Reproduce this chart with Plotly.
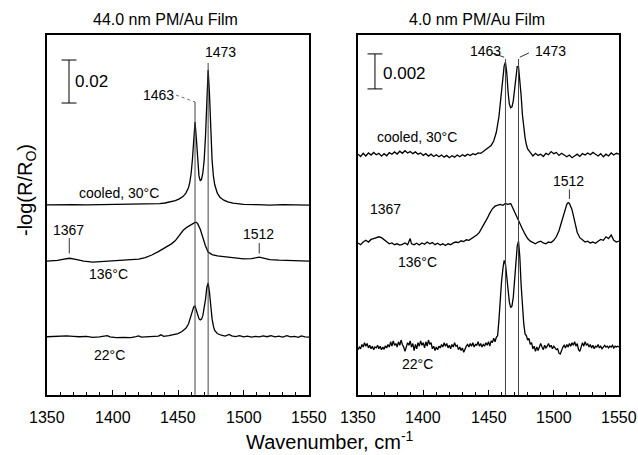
import plotly.graph_objects as go

# ---------------- DATA (absorbance in mAU, relative to each trace's own baseline) ----------------
L_cooled_x = [1350,1360,1370,1380,1390,1400,1410,1420,1430,1436,1440,1444,1448,1451,1454,1456,1458,1459,1460,1461,1462,1463,1464,1465,1466,1467,1468,1469,1470,1471,1472,1473,1474,1475,1476,1477,1478,1480,1482,1485,1488,1492,1496,1500,1510,1520,1530,1540,1550]
L_cooled_y = [0.0,0.15,0.1,0.0,0.1,0.0,0.1,0.2,0.4,0.6,0.9,1.3,2.0,2.8,4.0,5.5,8.0,10.5,14.5,21.0,31.0,38.6,31.0,20.0,13.5,11.2,12.0,15.0,21.0,32.0,50.0,62.8,52.0,34.0,21.0,13.5,9.5,5.5,3.6,2.2,1.4,0.8,0.5,0.3,0.1,-0.1,0.1,0.0,-0.1]

L_136_x = [1350,1358,1362,1367,1372,1378,1385,1392,1400,1408,1415,1420,1425,1430,1435,1440,1445,1448,1451,1454,1457,1459,1461,1463,1464,1465,1467,1469,1471,1473,1476,1480,1486,1493,1500,1506,1512,1516,1520,1527,1535,1542,1550]
L_136_y = [0.0,0.3,0.8,1.3,0.8,0.0,-0.5,-0.2,0.0,0.2,0.5,0.9,1.6,2.8,4.4,6.2,8.0,9.5,11.8,14.3,15.8,16.5,17.4,18.0,18.0,17.4,14.8,10.8,7.0,4.2,3.0,2.4,1.9,1.4,1.0,1.1,1.8,1.3,0.7,0.4,0.2,0.1,0.0]

L_22_x = [1350,1355,1360,1365,1370,1375,1380,1385,1390,1394,1396,1398,1403,1408,1414,1418,1420,1422,1428,1432,1435,1437,1439,1443,1447,1450,1453,1456,1458,1460,1461,1462,1463,1464,1465,1466,1467,1468,1469,1470,1471,1472,1473,1474,1475,1476,1477,1478,1480,1483,1486,1489,1491,1494,1497,1500,1503,1506,1509,1512,1515,1518,1521,1524,1527,1530,1533,1536,1539,1542,1544,1547,1550]
L_22_y = [0.1,0.3,0.2,0.5,0.3,0.1,0.3,-0.2,0.0,0.3,0.6,0.0,-0.3,-0.2,-0.3,0.2,0.5,-0.1,0.2,0.1,0.4,1.0,0.3,0.6,1.0,1.6,2.5,4.0,6.0,9.5,12.0,14.0,14.4,12.5,10.0,8.5,7.9,8.3,10.0,13.0,17.5,23.0,25.1,21.0,13.5,8.5,5.0,3.0,1.6,0.8,0.4,1.2,0.5,0.2,0.6,0.0,0.4,-0.1,0.3,0.0,0.5,0.1,0.6,0.0,0.4,-0.1,0.6,0.0,0.3,-0.2,0.5,0.0,-0.1]

R_cooled_x = [1350,1352,1354,1356,1358,1360,1362,1364,1366,1368,1370,1372,1374,1376,1378,1380,1382,1384,1386,1388,1390,1392,1394,1396,1398,1400,1402,1404,1406,1408,1410,1412,1414,1416,1418,1420,1422,1424,1426,1428,1430,1432,1434,1436,1438,1440,1442,1444,1446,1448,1450,1452,1454,1456,1458,1460,1461,1462,1463,1464,1465,1466,1467,1468,1469,1470,1471,1472,1473,1474,1475,1476,1477,1478,1479,1480,1482,1484,1486,1488,1490,1492,1494,1496,1498,1500,1502,1504,1506,1508,1510,1512,1514,1516,1518,1520,1522,1524,1526,1528,1530,1532,1534,1536,1538,1540,1542,1544,1546,1548,1550]
R_cooled_y = [0.05,-0.08,0.10,-0.05,0.12,0.00,0.15,0.02,0.10,-0.06,0.08,-0.04,0.14,0.05,0.18,0.06,0.22,0.10,0.25,0.12,0.20,0.08,0.18,0.05,0.12,-0.02,0.08,-0.06,0.05,-0.08,0.02,-0.10,0.00,-0.12,-0.02,-0.15,-0.04,-0.12,0.00,-0.10,0.02,-0.06,0.05,-0.03,0.08,0.02,0.12,0.10,0.20,0.30,0.40,0.55,0.80,1.30,2.20,3.60,4.50,5.10,5.30,4.70,3.60,2.90,2.70,2.75,3.10,3.90,4.70,5.05,5.05,4.40,3.40,2.30,1.50,1.00,0.60,0.35,0.15,-0.05,0.10,-0.02,0.05,-0.08,0.10,0.02,0.20,0.08,0.15,-0.02,0.10,0.00,-0.10,0.00,-0.15,-0.05,0.05,-0.08,0.08,0.00,0.12,0.02,0.15,0.05,-0.05,0.08,-0.10,0.05,-0.05,0.12,0.00,0.10,0.05]

R_136_x = [1350,1352,1354,1356,1358,1360,1362,1364,1366,1368,1370,1372,1374,1376,1378,1380,1382,1384,1386,1388,1390,1391,1393,1395,1397,1399,1401,1403,1405,1407,1409,1411,1413,1415,1417,1419,1421,1423,1425,1427,1429,1431,1433,1435,1437,1439,1441,1443,1445,1447,1449,1451,1453,1455,1457,1459,1461,1463,1465,1467,1468,1470,1472,1474,1476,1478,1480,1482,1484,1486,1488,1490,1492,1494,1496,1498,1500,1502,1504,1506,1508,1510,1511,1512,1514,1516,1518,1520,1522,1524,1526,1528,1530,1532,1534,1536,1538,1540,1542,1544,1546,1548,1550]
R_136_y = [0.0,-0.1,0.05,0.15,0.05,0.2,0.25,0.30,0.35,0.30,0.20,0.05,-0.05,0.00,-0.10,-0.05,-0.12,-0.08,0.00,-0.10,0.25,-0.05,-0.10,-0.02,-0.12,0.00,-0.08,0.05,-0.05,0.02,-0.10,-0.02,-0.12,-0.05,-0.15,-0.05,-0.10,0.00,0.05,0.02,0.12,0.08,0.18,0.15,0.25,0.30,0.45,0.60,0.85,1.10,1.40,1.70,1.95,2.10,2.15,2.20,2.15,2.25,2.20,2.25,2.10,1.75,1.40,1.10,0.80,0.50,0.25,0.10,0.00,-0.05,0.05,0.10,0.00,-0.05,0.05,0.02,0.15,0.35,0.70,1.20,1.80,2.20,2.30,2.25,1.90,1.20,0.60,0.30,0.15,0.05,0.10,0.00,0.05,-0.02,0.10,0.20,0.15,0.35,0.25,0.45,0.15,0.05,0.10]

R_22_x = list(range(1350, 1551))
R_22_y = [-0.10,0.05,-0.05,0.20,0.05,0.30,0.10,0.25,0.00,0.15,-0.05,0.10,-0.10,0.05,0.00,0.15,-0.05,0.10,-0.10,0.05,
          -0.08,0.12,0.00,0.20,0.05,0.35,0.10,0.40,0.15,0.25,0.05,0.35,0.15,0.45,0.20,0.05,-0.20,0.10,0.30,0.15,
          0.40,0.05,0.25,-0.15,0.20,-0.05,0.30,0.10,0.40,0.15,0.30,0.00,0.35,0.10,0.45,0.20,0.30,-0.05,0.10,-0.15,
          0.05,-0.10,0.10,0.00,0.20,0.05,0.30,0.10,0.25,0.00,0.15,-0.05,0.20,0.05,0.30,0.10,0.15,-0.10,0.05,-0.15,
          0.00,-0.25,-0.05,0.10,0.20,0.05,0.25,0.10,0.30,0.05,0.20,0.15,0.35,0.10,0.25,0.05,0.20,0.10,0.30,0.15,
          0.35,0.10,0.40,0.30,0.55,0.35,0.60,0.70,1.60,2.80,3.80,4.50,5.00,4.80,4.00,3.20,2.60,2.30,2.40,2.90,
          3.80,4.90,5.80,6.10,5.20,3.60,2.30,1.40,0.80,0.70,0.45,0.55,0.20,0.30,-0.05,0.10,-0.20,0.05,-0.15,0.10,
          0.25,0.05,-0.10,0.15,0.00,0.10,0.25,0.05,0.15,-0.05,0.10,0.00,-0.10,-0.05,-0.30,-0.35,-0.10,0.05,0.15,0.00,
          0.20,0.05,0.25,0.10,0.30,0.15,0.35,0.10,0.25,-0.10,-0.20,0.05,0.30,0.10,0.35,0.15,0.25,0.05,0.20,0.00,
          0.15,-0.05,0.10,0.05,0.20,0.00,0.10,-0.05,0.05,0.15,0.05,0.10,0.00,0.10,0.05,0.15,0.00,0.10,0.05,0.10,0.05]

# vertical stacking offsets (mAU) for each panel: cooled, 136 C, 22 C
L_offsets = [88.4, 62.3, 27.0]
R_offsets = [13.71, 8.69, 2.69]

peak_lines = [1463, 1473]
scale_left = 20.0    # 0.02 absorbance
scale_right = 2.0    # 0.002 absorbance
x_ticks = [1350, 1400, 1450, 1500, 1550]
x_tick_labels = ["1350", "1400", "1450", "1500", "1550"]

# ---------------- FIGURE ----------------
W, H = 638, 455
FONT = "Arial, Liberation Sans, Helvetica, sans-serif"
LW = 1.3

def px(x):
    return x / W

def py(y):
    return 1 - y / H

fig = go.Figure()

def add(xs, ys, off, xa, ya):
    fig.add_trace(go.Scatter(x=xs, y=[v + off for v in ys], mode="lines",
                             line=dict(color="black", width=LW), xaxis=xa, yaxis=ya,
                             showlegend=False, hoverinfo="skip"))

add(L_cooled_x, L_cooled_y, L_offsets[0], "x", "y")
add(L_136_x, L_136_y, L_offsets[1], "x", "y")
add(L_22_x, L_22_y, L_offsets[2], "x", "y")
add(R_cooled_x, R_cooled_y, R_offsets[0], "x2", "y2")
add(R_136_x, R_136_y, R_offsets[1], "x2", "y2")
add(R_22_x, R_22_y, R_offsets[2], "x2", "y2")

axis_common = dict(showline=True, linecolor="black", linewidth=1.5, mirror=True,
                   showgrid=False, zeroline=False, automargin=False)
xcommon = dict(range=[1350, 1550], tickvals=x_ticks, ticks="inside", ticklen=5,
               tickcolor="black", showticklabels=False,
               minor=dict(dtick=10, ticks="inside", ticklen=3, tickcolor="black", tick0=1350),
               **axis_common)
fig.update_layout(
    width=W, height=H, margin=dict(l=0, r=0, t=0, b=0, pad=0, autoexpand=False),
    paper_bgcolor="white", plot_bgcolor="white",
    font=dict(family=FONT, color="black"),
    xaxis=dict(domain=[px(47), px(309)], anchor="y", **xcommon),
    yaxis=dict(domain=[py(395), py(35)], range=[0, 360 * 0.4651], anchor="x",
               showticklabels=False, ticks="", **axis_common),
    xaxis2=dict(domain=[px(358), px(619)], anchor="y2", **xcommon),
    yaxis2=dict(domain=[py(395), py(35)], range=[0, 360 * 0.05714], anchor="x2",
                showticklabels=False, ticks="", **axis_common),
)

# x tick labels placed at the tick values, below each axis
for xr in ("x", "x2"):
    for tv, tl in zip(x_ticks, x_tick_labels):
        fig.add_annotation(text=tl, x=tv, xref=xr, y=py(417), yref="paper",
                           showarrow=False, xanchor="center", yanchor="middle",
                           font=dict(size=16, family=FONT, color="black"))

gray = "#444444"
# vertical peak lines (left)
for pk, top in zip(peak_lines, [136.3, 154.4]):
    fig.add_shape(type="line", xref="x", yref="y", x0=pk, x1=pk, y0=0, y1=top,
                  line=dict(color=gray, width=1))
# vertical peak lines (right)
for pk in peak_lines:
    fig.add_shape(type="line", xref="x2", yref="y2", x0=pk, x1=pk, y0=0, y1=19.2,
                  line=dict(color=gray, width=1))

# scale bars
def scalebar(xref, yref, xc, y0, length, half):
    fig.add_shape(type="line", xref=xref, yref=yref, x0=xc, x1=xc, y0=y0, y1=y0 + length,
                  line=dict(color="black", width=1))
    for yy in (y0, y0 + length):
        fig.add_shape(type="line", xref=xref, yref=yref, x0=xc - half, x1=xc + half, y0=yy, y1=yy,
                      line=dict(color="black", width=1))

scalebar("x", "y", 1366.8, 135.8, scale_left, 5.7)
scalebar("x2", "y2", 1363.0, 17.49, scale_right, 5.7)

# leader / tick marks for labels
def seg(xref, yref, x0, y0, x1, y1, dash="solid", color="black"):
    fig.add_shape(type="line", xref=xref, yref=yref, x0=x0, x1=x1, y0=y0, y1=y1,
                  line=dict(color=color, width=0.8, dash=dash))

seg("x", "y", 1448.5, 139.5, 1463, 136.3, dash="dot", color=gray)
seg("x", "y", 1367, 65.8, 1367, 73.0)
seg("x", "y", 1512, 65.8, 1512, 70.7)
seg("x2", "y2", 1452.5, 19.55, 1462, 19.3)
seg("x2", "y2", 1474, 19.3, 1481, 19.55)
seg("x2", "y2", 1512, 11.2, 1512, 11.75)

# text labels (pixel positions in the 638x455 window)
def label(text, x, y, size=14, angle=0):
    fig.add_annotation(text=text, x=px(x), y=py(y), xref="paper", yref="paper",
                       showarrow=False, font=dict(size=size, family=FONT, color="black"),
                       xanchor="center", yanchor="middle", textangle=angle)

label("44.0 nm PM/Au Film", 165, 20, 16)
label("4.0 nm PM/Au Film", 477, 20, 16)
label("-log(R/R<sub>O</sub>)", 26, 190, 20, -90)
label("Wavenumber, cm<sup>-1</sup>", 330, 440, 20)

label("0.02", 91, 81, 17)
label("0.002", 404, 73, 17)

label("1473", 220, 52)
label("1463", 158, 95)
label("cooled, 30°C", 119, 193)
label("1367", 68, 230)
label("1512", 258, 234)
label("136°C", 108, 274)
label("22°C", 109, 355)

label("1463", 485, 51)
label("1473", 550, 51)
label("cooled, 30°C", 417, 137)
label("1367", 385, 209)
label("1512", 568, 181)
label("136°C", 417, 262)
label("22°C", 417, 364)

# remove the page's default body margin so the figure sits at the window origin
fig.write_html("out.html", config={"displayModeBar": False},
               post_script="document.body.style.margin='0';document.body.style.overflow='hidden';")
